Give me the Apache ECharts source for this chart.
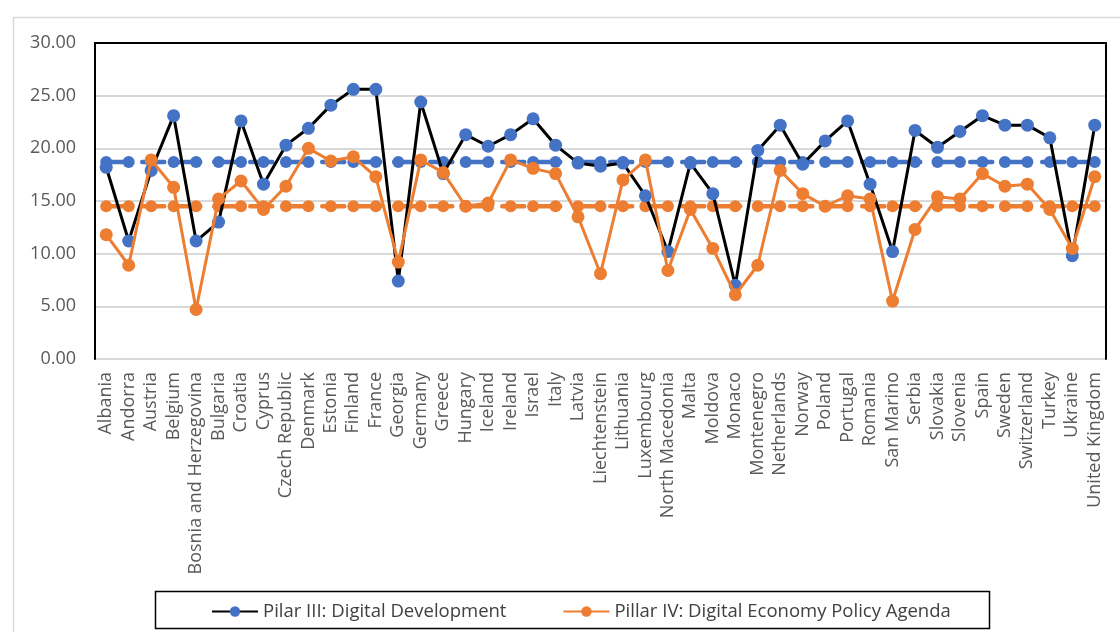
<!DOCTYPE html>
<html>
<head>
<meta charset="utf-8">
<script src="https://cdn.jsdelivr.net/npm/echarts@6/dist/echarts.min.js"></script>
<style>
  html, body { margin: 0; padding: 0; background: #ffffff; }
  #chart { width: 1120px; height: 632px; }
</style>
</head>
<body>
<div id="chart"></div>
<script>
// Countries on the category axis
const countries = [
  'Albania', 'Andorra', 'Austria', 'Belgium', 'Bosnia and Herzegovina', 'Bulgaria',
  'Croatia', 'Cyprus', 'Czech Republic', 'Denmark', 'Estonia', 'Finland', 'France',
  'Georgia', 'Germany', 'Greece', 'Hungary', 'Iceland', 'Ireland', 'Israel', 'Italy',
  'Latvia', 'Liechtenstein', 'Lithuania', 'Luxembourg', 'North Macedonia', 'Malta',
  'Moldova', 'Monaco', 'Montenegro', 'Netherlands', 'Norway', 'Poland', 'Portugal',
  'Romania', 'San Marino', 'Serbia', 'Slovakia', 'Slovenia', 'Spain', 'Sweden',
  'Switzerland', 'Turkey', 'Ukraine', 'United Kingdom'
];

// Pillar III: Digital Development scores
const pillar3 = [
  18.2, 11.2, 17.9, 23.1, 11.2, 13.0, 22.6, 16.6, 20.3, 21.9, 24.1, 25.6, 25.6,
  7.4, 24.4, 17.6, 21.3, 20.2, 21.3, 22.8, 20.3, 18.6, 18.3, 18.6, 15.5, 10.2,
  18.6, 15.7, 7.0, 19.8, 22.2, 18.5, 20.7, 22.6, 16.6, 10.2, 21.7, 20.1, 21.6,
  23.1, 22.2, 22.2, 21.0, 9.8, 22.2
];

// Pillar IV: Digital Economy Policy Agenda scores
const pillar4 = [
  11.8, 8.9, 18.9, 16.3, 4.7, 15.2, 16.9, 14.2, 16.4, 20.0, 18.8, 19.2, 17.3,
  9.2, 18.9, 17.7, 14.5, 14.8, 18.9, 18.1, 17.6, 13.5, 8.1, 17.0, 18.9, 8.4,
  14.2, 10.5, 6.1, 8.9, 17.9, 15.7, 14.5, 15.5, 15.2, 5.5, 12.3, 15.4, 15.2,
  17.6, 16.4, 16.6, 14.2, 10.5, 17.3
];

// Average levels drawn as dashed reference lines
const pillar3Average = 18.7;
const pillar4Average = 14.5;

// Value-axis ticks
const yTicks = [0, 5, 10, 15, 20, 25, 30];

const seriesNames = ['Pilar III: Digital Development', 'Pillar IV: Digital Economy Policy Agenda'];

const BLUE = '#4472c4';
const ORANGE = '#ed7d31';
const FONT = '"Open Sans", "Liberation Sans", sans-serif';

const chart = echarts.init(document.getElementById('chart'), null, { renderer: 'canvas' });

chart.setOption({
  animation: false,
  backgroundColor: '#ffffff',
  textStyle: { fontFamily: FONT },
  graphic: [
    // chart-area frame (only its top and left edges fall inside the page)
    {
      type: 'rect',
      shape: { x: 13.5, y: 17.5, width: 1300, height: 800 },
      style: { fill: null, stroke: '#d9d9d9', lineWidth: 1.5 },
      silent: true, z: -10
    },
    // legend frame
    {
      type: 'rect',
      shape: { x: 155.5, y: 591.5, width: 834, height: 37 },
      style: { fill: '#ffffff', stroke: '#000000', lineWidth: 1.5 },
      silent: true, z: -5
    }
  ],
  legend: {
    data: seriesNames,
    left: 206,
    top: 597,
    itemWidth: 46,
    itemHeight: 13,
    itemGap: 56,
    textStyle: { fontFamily: FONT, fontSize: 18.5, color: '#404040' }
  },
  grid: { left: 95, right: 14, top: 43, bottom: 273 },
  xAxis: [
    {
      type: 'category',
      data: countries,
      boundaryGap: true,
      axisLine: { show: false },
      axisTick: { show: false },
      axisLabel: {
        interval: 0,
        rotate: 90,
        margin: 13,
        color: '#595959',
        fontFamily: FONT,
        fontSize: 18
      }
    },
    {
      type: 'category',
      data: countries,
      position: 'top',
      axisLine: { show: true, onZero: false, lineStyle: { color: '#000000', width: 2 } },
      axisTick: { show: false },
      axisLabel: { show: false }
    }
  ],
  yAxis: [
    {
      type: 'value',
      min: yTicks[0],
      max: yTicks[yTicks.length - 1],
      interval: 5,
      axisLine: { show: true, lineStyle: { color: '#000000', width: 2 } },
      axisTick: { show: false },
      splitLine: { show: true, lineStyle: { color: '#d9d9d9', width: 2 } },
      axisLabel: {
        margin: 19,
        color: '#595959',
        fontFamily: FONT,
        fontSize: 18,
        formatter: v => v.toFixed(2)
      }
    },
    {
      type: 'value',
      position: 'right',
      min: yTicks[0],
      max: yTicks[yTicks.length - 1],
      interval: 5,
      axisLine: { show: true, lineStyle: { color: '#000000', width: 2 } },
      axisTick: { show: false },
      splitLine: { show: false },
      axisLabel: { show: false }
    }
  ],
  series: [
    {
      name: seriesNames[0],
      type: 'line',
      data: pillar3,
      symbol: 'circle',
      symbolSize: 13,
      lineStyle: { color: '#000000', width: 3 },
      itemStyle: { color: BLUE },
      z: 3
    },
    {
      name: seriesNames[1],
      type: 'line',
      data: pillar4,
      symbol: 'circle',
      symbolSize: 13,
      lineStyle: { color: ORANGE, width: 3 },
      itemStyle: { color: ORANGE },
      z: 4
    },
    {
      name: 'Pillar III average',
      type: 'line',
      data: countries.map(() => pillar3Average),
      symbol: 'circle',
      symbolSize: 12,
      lineStyle: { color: BLUE, width: 4.5, type: [22, 14], cap: 'round' },
      itemStyle: { color: BLUE },
      z: 2
    },
    {
      name: 'Pillar IV average',
      type: 'line',
      data: countries.map(() => pillar4Average),
      symbol: 'circle',
      symbolSize: 12,
      lineStyle: { color: ORANGE, width: 4.5, type: [22, 14], cap: 'round' },
      itemStyle: { color: ORANGE },
      z: 2
    }
  ]
});
</script>
</body>
</html>
